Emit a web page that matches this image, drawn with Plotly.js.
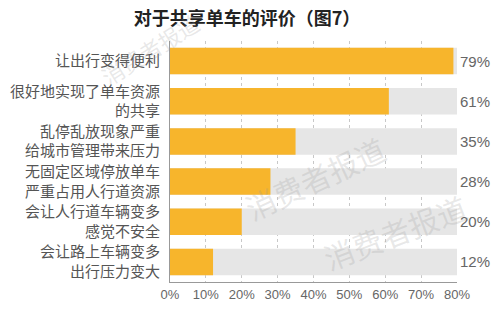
<!DOCTYPE html>
<html>
<head>
<meta charset="utf-8">
<script src="https://cdn.plot.ly/plotly-3.0.1.min.js"></script>
<style>html,body{margin:0;padding:0;background:#fff;}#chart{width:500px;height:321px;}</style>
</head>
<body>
<div id="chart"></div>
<script>
const categories = [
  "让出行变得便利",
  "很好地实现了单车资源<br>的共享",
  "乱停乱放现象严重<br>给城市管理带来压力",
  "无固定区域停放单车<br>严重占用人行道资源",
  "会让人行道车辆变多<br>感觉不安全",
  "会让路上车辆变多<br>出行压力变大"
];
const values = [79, 61, 35, 28, 20, 12];
const fullScale = [80, 80, 80, 80, 80, 80];
const tickVals = [0, 10, 20, 30, 40, 50, 60, 70, 80];
const tickText = ["0%", "10%", "20%", "30%", "40%", "50%", "60%", "70%", "80%"];
const titleText = "对于共享单车的评价（图7）";
const watermark = "消费者报道";

const cjk = '"Noto Sans CJK SC", Arial, sans-serif';

const traces = [
  {
    type: 'bar', orientation: 'h',
    y: categories, x: fullScale,
    marker: {color: '#e6e6e6'},
    width: 0.66,
    text: values.map(v => v + '%'),
    textposition: 'outside',
    textfont: {family: 'Arial, sans-serif', size: 15, color: '#666'},
    cliponaxis: false,
    hoverinfo: 'skip'
  },
  {
    type: 'bar', orientation: 'h',
    y: categories, x: values,
    marker: {color: '#f7b52c'},
    width: 0.66,
    hoverinfo: 'skip'
  }
];

const wmFont = (s) => ({family: '"Noto Sans CJK SC", serif', size: s, color: 'rgba(150,150,150,0.22)'});
const wmAnnotations = [
  {text: watermark, xref: 'paper', yref: 'paper', x: -0.07, y: 0.965, xanchor: 'center', yanchor: 'middle',
   textangle: -32, showarrow: false, font: wmFont(22)},
  {text: watermark, xref: 'paper', yref: 'paper', x: 0.505, y: 0.432, xanchor: 'center', yanchor: 'middle',
   textangle: -25, showarrow: false, font: wmFont(30)},
  {text: watermark, xref: 'paper', yref: 'paper', x: 0.784, y: 0.207, xanchor: 'center', yanchor: 'middle',
   textangle: -21, showarrow: false, font: wmFont(30)}
];

const layout = {
  width: 500, height: 321,
  margin: {l: 170, r: 43, t: 41, b: 39},
  paper_bgcolor: '#fff', plot_bgcolor: '#fff',
  barmode: 'overlay',
  showlegend: false,
  title: {text: '<b>' + titleText + '</b>', x: 0.494, xanchor: 'center', y: 0.943, yanchor: 'middle',
          font: {family: cjk, size: 18, color: '#222'}},
  xaxis: {
    range: [0, 80], tickvals: tickVals, ticktext: tickText,
    showgrid: true, gridcolor: '#c8c8c8', griddash: 'dot', gridwidth: 1,
    showline: true, linecolor: '#999', linewidth: 1,
    zeroline: false, ticks: '',
    tickfont: {family: 'Arial, sans-serif', size: 13, color: '#666'},
    fixedrange: true
  },
  yaxis: {
    autorange: 'reversed',
    showline: true, linecolor: '#999', linewidth: 1,
    ticks: '', ticklabelstandoff: 6,
    tickfont: {family: cjk, size: 15, color: '#555'},
    fixedrange: true
  },
  annotations: wmAnnotations
};

Plotly.newPlot('chart', traces, layout, {displayModeBar: false, staticPlot: true});
</script>
</body>
</html>
